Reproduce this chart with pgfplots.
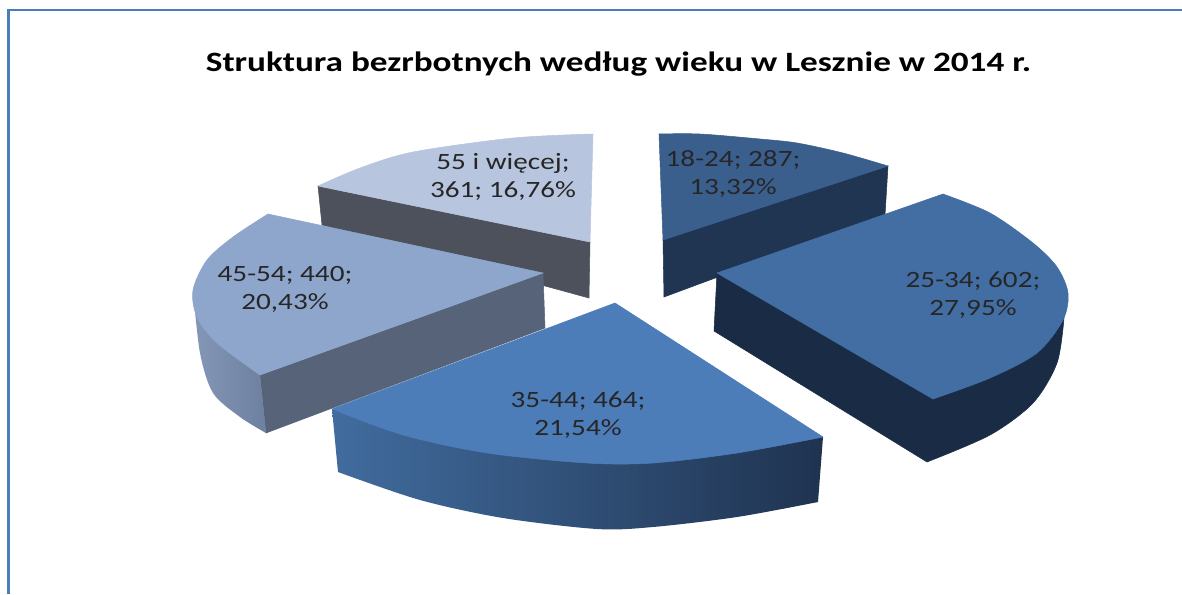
\documentclass[border=0pt]{standalone}
\usepackage{pgfplots}
\pgfplotsset{compat=1.18}
\usepackage{fontspec}
\setmainfont{Carlito}
\definecolor{frameblue}{HTML}{4A7EBB}
\definecolor{topA}{HTML}{3A5F8D}
\definecolor{sideA}{HTML}{1F3552}
\definecolor{topB}{HTML}{426EA3}
\definecolor{sideB}{HTML}{1A2C45}
\definecolor{topC}{HTML}{4C7DB9}
\definecolor{sideCl}{HTML}{416C9E}
\definecolor{sideCr}{HTML}{1F3350}
\definecolor{topD}{HTML}{8FA6CC}
\definecolor{sideD}{HTML}{566379}
\definecolor{curveDl}{HTML}{8597B6}
\definecolor{curveDr}{HTML}{6E80A0}
\definecolor{topE}{HTML}{B8C5DF}
\definecolor{sideE}{HTML}{4C515C}
\newcommand{\lbl}[3]{\node[align=center,font=\fontsize{17.5}{21}\selectfont,text=black!85,xscale=1.25,inner sep=0pt] at (axis cs:#1,#2) {#3};}
\begin{document}
\begin{tikzpicture}
\begin{axis}[
  x=0.75pt,y=0.75pt,y dir=reverse,
  xmin=0,xmax=1182,ymin=0,ymax=594,
  hide axis,clip=true,
  axis line style={draw=none}
]
% frame
\addplot[draw=frameblue,line width=2.25pt,no marks] coordinates {(8.5,594)(8.5,9)};
\addplot[draw=frameblue,line width=1.5pt,no marks] coordinates {(7,10)(1182,10)};
% 55 i wiecej
\addplot[fill=sideE,draw=sideE,no marks] coordinates {(318,186)(590,242)(589,298)(322,225)} --cycle;
\addplot[fill=topE,draw=topE,no marks,smooth] coordinates {(593,134)(513,138)(413,152)(360,168)(318,186)} -- (axis cs:590,242) --cycle;
% 45-54
\addplot[fill=sideD,draw=sideD,no marks] coordinates {(260,375)(543,273)(545,328)(266,433)} --cycle;
\addplot[left color=curveDl,right color=curveDr,draw=none,no marks,smooth] coordinates {(193,290)(200,353)(213,393)(240,417)(266,433)} -- (axis cs:260,375) --cycle;
\addplot[fill=topD,draw=topD,no marks,smooth] coordinates {(268,214)(233,237)(207,260)(193,290)(197,317)(217,343)(260,375)} -- (axis cs:543,273) --cycle;
% 18-24
\addplot[fill=sideA,draw=sideA,no marks] coordinates {(663,240)(888,166)(885,215)(664,297)} --cycle;
\addplot[fill=topA,draw=topA,no marks,smooth] coordinates {(659,134)(700,134)(760,139)(797,143)(843,153)(888,166)} -- (axis cs:663,240) --cycle;
% 25-34
\addplot[fill=sideB,draw=sideB,no marks,smooth] coordinates {(1064,318)(1057,363)(1033,403)(990,435)(927,462)} -- (axis cs:714,331) -- (axis cs:717,273) --cycle;
\addplot[fill=topB,draw=topB,no marks,smooth] coordinates {(943,194)(990,213)(1033,243)(1057,267)(1068,293)(1063,320)(1037,353)(990,378)(933,399)} -- (axis cs:717,273) --cycle;
% 35-44
\addplot[left color=sideCl,right color=sideCr,draw=none,no marks,smooth] coordinates {(338,472)(420,500)(503,518)(597,529)(653,527)(737,517)(818,502)} -- (axis cs:823,437) -- (axis cs:332,409) --cycle;
\addplot[fill=topC,draw=topC,no marks,smooth] coordinates {(332,409)(403,435)(487,453)(587,463)(653,463)(737,453)(823,437)} -- (axis cs:615,303) --cycle;
% labels
\lbl{733}{174}{18-24; 287;\\13,32\%}
\lbl{973}{295}{25-34; 602;\\27,95\%}
\lbl{578}{415}{35-44; 464;\\21,54\%}
\lbl{285}{289}{45-54; 440;\\20,43\%}
\lbl{503}{176.5}{55 i więcej;\\361; 16,76\%}
\node[font=\fontsize{21}{25}\selectfont\bfseries,text=black,xscale=1.257,inner sep=0pt] at (axis cs:618.5,64) {Struktura bezrbotnych według wieku w Lesznie w 2014 r.};
\path (axis cs:0,0) rectangle (axis cs:1182,594);
\end{axis}
\end{tikzpicture}
\end{document}
